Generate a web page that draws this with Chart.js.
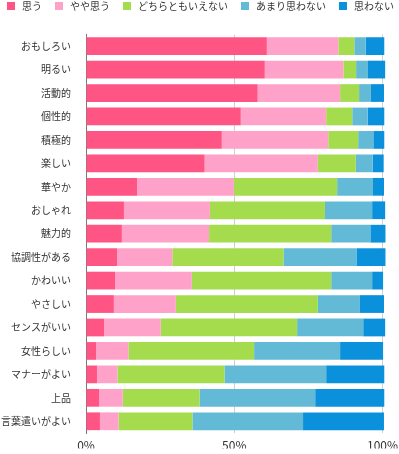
<!DOCTYPE html>
<html>
<head>
<meta charset="utf-8">
<script src="https://cdn.jsdelivr.net/npm/chart.js@4/dist/chart.umd.min.js"></script>
<style>
  html, body { margin: 0; padding: 0; background: #fff; }
  #graph0 { display: block; }
</style>
</head>
<body>
<canvas id="graph0" width="399" height="454"></canvas>
<script>
// DATA
const categories = ['おもしろい', '明るい', '活動的', '個性的', '積極的', '楽しい', '華やか', 'おしゃれ', '魅力的',
    '協調性がある', 'かわいい', 'やさしい', 'センスがいい', '女性らしい', 'マナーがよい', '上品', '言葉遣いがよい']
const seriesNames = ['思う', 'やや思う', 'どちらともいえない', 'あまり思わない', '思わない']
const omou = [61.0, 60.3, 57.9, 52.2, 45.8, 40.0, 17.2, 12.8, 12.1, 10.5, 9.8, 9.4, 6.1, 3.4, 3.7, 4.4, 4.7]
const yayaOmou = [24.1, 26.5, 27.8, 28.8, 35.9, 38.2, 32.7, 29.0, 29.4, 18.6, 25.9, 20.9, 19.1, 10.9, 6.9, 8.0, 6.3]
const dochiraTomo = [5.4, 4.3, 6.4, 8.8, 10.1, 12.8, 34.8, 38.8, 41.2, 37.5, 47.0, 47.9, 46.0, 42.4, 36.1, 25.9, 24.9]
const amariOmowanai = [3.8, 4.0, 4.0, 5.2, 5.1, 5.7, 12.1, 15.9, 13.2, 24.6, 13.8, 14.2, 22.3, 29.0, 34.3, 39.0, 37.3]
const omowanai = [6.3, 5.8, 4.4, 5.6, 3.7, 3.7, 3.7, 4.4, 5.1, 9.8, 3.7, 8.1, 7.4, 14.5, 19.6, 23.3, 27.3]
const tickValues = [0, 50, 100]

const colors = ['#ff5584', '#ffa2c9', '#a5dc4e', '#62bad7', '#0b91dc']
const values = [omou, yayaOmou, dochiraTomo, amariOmowanai, omowanai]
const FONT = '"Noto Sans CJK JP", "Noto Sans", sans-serif'

// keep legend on one line and let the plot start where the original does
const legendFit = {
    id: 'legendFit',
    afterInit(chart) {
        const legend = chart.legend
        const origFit = legend.fit
        legend.fit = function () {
            this.maxWidth = 1000
            origFit.call(this)
            this.height = 45.4
        }
        const origDraw = legend.draw
        legend.draw = function () {
            // widen both sides equally so centring stays the same but nothing wraps
            this.left -= 50
            this.right += 50
            origDraw.call(this)
            this.left += 50
            this.right -= 50
        }
    }
}

const ctx = document.getElementById('graph0').getContext('2d')

const graph0 = new Chart(ctx, {
    type: 'bar',
    data: {
        labels: categories,
        datasets: seriesNames.map((name, i) => ({
            label: name,
            data: values[i],
            backgroundColor: colors[i],
            borderWidth: 0,
            barPercentage: 0.757,
            categoryPercentage: 1,
            clip: false
        }))
    },
    options: {
        indexAxis: 'y',
        responsive: false,
        animation: false,
        devicePixelRatio: 1,
        layout: { padding: { top: -11, left: 0, right: 0, bottom: 0 } },
        plugins: {
            tooltip: { enabled: false },
            legend: {
                position: 'top',
                labels: {
                    boxWidth: 12,
                    boxHeight: 12,
                    padding: 11,
                    color: '#333',
                    font: { family: FONT, size: 10 },
                    generateLabels: chart => Chart.defaults.plugins.legend.labels.generateLabels(chart)
                        .map(item => ({ ...item, lineWidth: 4, strokeStyle: '#fff' }))
                }
            }
        },
        scales: {
            x: {
                stacked: true,
                min: 0,
                max: 100,
                afterBuildTicks: s => { s.ticks = tickValues.map(v => ({ value: v })) },
                afterFit: s => {
                    s.height = 15.4
                    s.paddingRight = 16.5
                },
                ticks: {
                    padding: 5,
                    color: '#333',
                    font: { family: FONT, size: 12 },
                    callback: v => v + '%'
                },
                grid: {
                    drawTicks: false,
                    color: c => c.tick && c.tick.value === 0 ? 'rgba(0,0,0,0)' : '#cfcfcf'
                },
                border: { display: false }
            },
            y: {
                stacked: true,
                afterFit: s => { s.width = 86 },
                ticks: {
                    padding: 15,
                    color: '#333',
                    font: { family: FONT, size: 10 }
                },
                grid: { display: false, drawTicks: false },
                border: { display: true, color: '#7a7a7a', width: 1 }
            }
        }
    },
    plugins: [legendFit]
})
</script>
</body>
</html>
